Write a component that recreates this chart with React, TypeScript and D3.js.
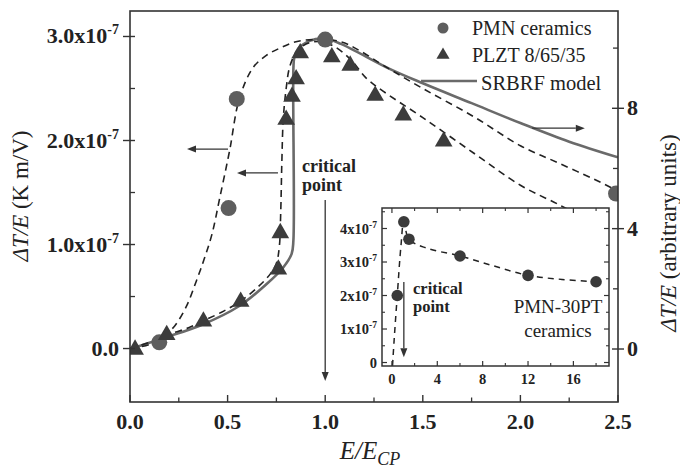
import React from "react";
import * as d3 from "d3";

// ---------- data ----------
// PMN ceramics (left axis, units of 1e-7 K m/V)
const pmnX = [0.15, 0.505, 0.547, 1.0, 2.49];
const pmnY = [0.06, 1.35, 2.4, 2.97, 1.49];
// PLZT 8/65/35 (left axis)
const plztX = [0.026, 0.188, 0.376, 0.567, 0.76, 0.77, 0.8, 0.83, 0.851, 0.872, 1.034, 1.128, 1.256, 1.4, 1.607];
const plztY = [0.0, 0.14, 0.27, 0.46, 0.77, 1.12, 2.21, 2.43, 2.6, 2.85, 2.81, 2.73, 2.44, 2.25, 2.0];
// dashed fit through PMN points (left axis)
const pmnFitX = [0, 0.1, 0.18, 0.23, 0.29, 0.34, 0.38, 0.42, 0.46, 0.51, 0.56, 0.63, 0.7, 0.77, 0.85, 0.95, 1.08, 1.18, 1.3, 1.5, 1.76, 2.0, 2.2, 2.43, 2.5];
const pmnFitY = [0, 0.04, 0.13, 0.22, 0.41, 0.65, 0.86, 1.1, 1.45, 1.9, 2.4, 2.7, 2.82, 2.89, 2.95, 2.97, 2.95, 2.86, 2.72, 2.5, 2.23, 1.95, 1.78, 1.58, 1.51];
// dashed fit through PLZT points (left axis)
const plztFitX = [0, 0.1, 0.19, 0.3, 0.38, 0.48, 0.57, 0.66, 0.72, 0.75, 0.765, 0.772, 0.778, 0.785, 0.8, 0.82, 0.86, 0.92, 0.98, 1.05, 1.13, 1.21, 1.3, 1.5, 1.76, 2.0, 2.19, 2.3];
const plztFitY = [0, 0.06, 0.13, 0.2, 0.27, 0.36, 0.46, 0.6, 0.72, 0.82, 0.98, 1.3, 1.8, 2.2, 2.5, 2.72, 2.87, 2.94, 2.95, 2.9, 2.78, 2.6, 2.47, 2.22, 1.88, 1.57, 1.39, 1.28];
// SRBRF model (right axis, arbitrary units)
const srbrfX = [0, 0.19, 0.36, 0.56, 0.7, 0.785, 0.828, 0.837, 0.837, 0.842, 0.86, 0.92, 1.0, 1.08, 1.33, 1.5, 1.75, 2.0, 2.25, 2.5];
const srbrfY = [0, 0.4, 0.78, 1.43, 2.16, 2.71, 3.16, 3.6, 9.3, 9.7, 9.97, 10.24, 10.31, 10.14, 9.31, 8.83, 8.17, 7.51, 6.89, 6.37];
// inset: PMN-30PT ceramics (units of 1e-7)
const insetX = [0.47, 1.05, 1.5, 6, 12, 18];
const insetY = [2.0, 4.2, 3.68, 3.18, 2.6, 2.41];
const insetFitX = [0.05, 0.2, 0.47, 0.8, 1.05, 1.5, 3, 6, 9, 12, 15, 18];
const insetFitY = [-0.1, 0.7, 2.0, 3.5, 4.2, 3.68, 3.42, 3.18, 2.88, 2.6, 2.48, 2.41];

// ticks
const xMajor = [0, 0.5, 1.0, 1.5, 2.0, 2.5];
const xMinor = [0.25, 0.75, 1.25, 1.75, 2.25];
const xTickLabels = ["0.0", "0.5", "1.0", "1.5", "2.0", "2.5"];
const yLMajor = [0, 1, 2, 3];
const yLMinor = [0.5, 1.5, 2.5];
const yLTickLabels = ["0.0", "1.0x10", "2.0x10", "3.0x10"];
const yRMajor = [0, 4, 8];
const yRMinor = [2, 6, 10];
const yRTickLabels = ["0", "4", "8"];
const ixMajor = [0, 4, 8, 12, 16];
const ixMinor = [2, 6, 10, 14, 18];
const ixTickLabels = ["0", "4", "8", "12", "16"];
const iyMajor = [0, 1, 2, 3, 4];
const iyMinor = [0.5, 1.5, 2.5, 3.5, 4.5];
const iyTickLabels = ["0", "1x10", "2x10", "3x10", "4x10"];

const serif = '"Liberation Serif", "DejaVu Serif", serif';

function Arrow({ x1, y1, x2, y2, color = "#333", head = 9, hw = 3.5, sw = 1.3 }) {
  const ang = Math.atan2(y2 - y1, x2 - x1);
  const bx = x2 - head * Math.cos(ang);
  const by = y2 - head * Math.sin(ang);
  const px = -Math.sin(ang) * hw;
  const py = Math.cos(ang) * hw;
  return (
    <g>
      <line x1={x1} y1={y1} x2={bx} y2={by} stroke={color} strokeWidth={sw} />
      <path d={`M${x2},${y2}L${bx + px},${by + py}L${bx - px},${by - py}Z`} fill={color} />
    </g>
  );
}

export default function App() {
  const L = 130, R = 618, T = 11, B = 402;
  const x = d3.scaleLinear().domain([0, 2.5]).range([L, R]);
  const yL = d3.scaleLinear().domain([-0.514, 3.245]).range([B, T]);
  const yR = d3.scaleLinear().domain([-1.761, 11.233]).range([B, T]);

  const IL = 382, IR = 609, IT = 208, IB = 366;
  const ix = d3.scaleLinear().domain([-0.876, 19.14]).range([IL, IR]);
  const iy = d3.scaleLinear().domain([-0.104, 4.612]).range([IB, IT]);

  const curve = d3.curveCatmullRom.alpha(0.5);
  const mk = (xs: number[], ys: number[], sx: any, sy: any) =>
    d3.line<number>().x((_, i) => sx(xs[i])).y((_, i) => sy(ys[i])).curve(curve)(xs as any) as string;

  const pmnFitPath = mk(pmnFitX, pmnFitY, x, yL);
  const plztFitPath = mk(plztFitX, plztFitY, x, yL);
  const srbrfPath = mk(srbrfX, srbrfY, x, yR);
  const insetFitPath = mk(insetFitX, insetFitY, ix, iy);

  const tri = d3.symbol().type(d3.symbolTriangle).size(135)() as string;
  const triLeg = d3.symbol().type(d3.symbolTriangle).size(75)() as string;

  const axisColor = "#333";
  const tickStyle = { fontFamily: serif, fontWeight: 700, fontSize: 22 } as const;
  const insetTickStyle = { fontFamily: serif, fontWeight: 700, fontSize: 14.5 } as const;
  const txt = { fontFamily: serif } as const;

  return (
    <svg width={680} height={468} style={{ position: "absolute", left: 0, top: 0, background: "#fff", fontFamily: serif }}>
      <defs>
        <clipPath id="plot">
          <rect x={L} y={T} width={R - L} height={B - T} />
        </clipPath>
        <clipPath id="inset">
          <rect x={IL} y={IT} width={IR - IL} height={IB - IT} />
        </clipPath>
      </defs>
      <rect x={0} y={0} width={680} height={468} fill="#fff" />

      {/* curves */}
      <g clipPath="url(#plot)">
        <path d={srbrfPath} fill="none" stroke="#6a6a6a" strokeWidth={2.6} />
        <path d={pmnFitPath} fill="none" stroke="#222" strokeWidth={1.6} strokeDasharray="7 5" />
        <path d={plztFitPath} fill="none" stroke="#222" strokeWidth={1.6} strokeDasharray="7 5" />
        {pmnX.map((v, i) => (
          <circle key={"c" + i} cx={x(v)} cy={yL(pmnY[i])} r={8} fill="#5e5e5e" />
        ))}
        {plztX.map((v, i) => (
          <path key={"t" + i} d={tri} transform={`translate(${x(v)},${yL(plztY[i]) + 1})`} fill="#3c3c3c" />
        ))}
      </g>

      {/* annotation arrows */}
      <Arrow x1={x(0.502)} y1={yL(1.918)} x2={x(0.292)} y2={yL(1.918)} />
      <Arrow x1={x(0.758)} y1={yL(1.688)} x2={x(0.548)} y2={yL(1.688)} />
      <Arrow x1={x(2.06)} y1={yR(7.34)} x2={x(2.33)} y2={yR(7.34)} />
      <Arrow x1={x(1.0)} y1={yL(1.428)} x2={x(1.0)} y2={yL(-0.3125)} />
      <text x={302} y={172} style={{ ...txt, fontWeight: 700, fontSize: 18 }} fill="#222">critical</text>
      <text x={302} y={191} style={{ ...txt, fontWeight: 700, fontSize: 18 }} fill="#222">point</text>

      {/* legend */}
      <circle cx={443} cy={28} r={5.5} fill="#5e5e5e" />
      <text x={472} y={35} style={{ ...txt, fontSize: 20 }} fill="#222">PMN ceramics</text>
      <path d={triLeg} transform="translate(443,55)" fill="#3c3c3c" />
      <text x={472} y={62} style={{ ...txt, fontSize: 20 }} fill="#222">PLZT 8/65/35</text>
      <line x1={421} x2={477} y1={81} y2={81} stroke="#6a6a6a" strokeWidth={2.6} />
      <text x={481} y={90} style={{ ...txt, fontSize: 20.5 }} fill="#222">SRBRF model</text>

      {/* main frame */}
      <rect x={L} y={T} width={R - L} height={B - T} fill="none" stroke={axisColor} strokeWidth={1.6} />
      {xMajor.map((v) => (
        <line key={"xm" + v} x1={x(v)} x2={x(v)} y1={B} y2={B - 7} stroke={axisColor} strokeWidth={1.4} />
      ))}
      {xMinor.map((v) => (
        <line key={"xn" + v} x1={x(v)} x2={x(v)} y1={B} y2={B - 4.5} stroke={axisColor} strokeWidth={1.3} />
      ))}
      {xMajor.map((v, i) => (
        <text key={"xl" + v} x={x(v)} y={429} textAnchor="middle" style={tickStyle} fill="#222">{xTickLabels[i]}</text>
      ))}
      {yLMajor.map((v) => (
        <line key={"ylm" + v} x1={L - 7} x2={L + 5} y1={yL(v)} y2={yL(v)} stroke={axisColor} strokeWidth={1.4} />
      ))}
      {yLMinor.map((v) => (
        <line key={"yln" + v} x1={L} x2={L + 5} y1={yL(v)} y2={yL(v)} stroke={axisColor} strokeWidth={1.3} />
      ))}
      {yLMajor.map((v, i) => (
        <text key={"yll" + v} x={119} y={yL(v) + 7} textAnchor="end" style={tickStyle} fill="#222">
          {yLTickLabels[i]}
          {v !== 0 && <tspan style={{ fontSize: 14 }} dy={-9}>-7</tspan>}
        </text>
      ))}
      {yRMajor.map((v) => (
        <line key={"yrm" + v} x1={R - 6} x2={R + 6} y1={yR(v)} y2={yR(v)} stroke={axisColor} strokeWidth={1.4} />
      ))}
      {yRMinor.map((v) => (
        <line key={"yrn" + v} x1={R - 5} x2={R} y1={yR(v)} y2={yR(v)} stroke={axisColor} strokeWidth={1.3} />
      ))}
      {yRMajor.map((v, i) => (
        <text key={"yrl" + v} x={627} y={yR(v) + 7} textAnchor="start" style={tickStyle} fill="#222">{yRTickLabels[i]}</text>
      ))}

      {/* axis titles */}
      <text x={370} y={459} textAnchor="middle" style={{ ...txt, fontSize: 25, fontStyle: "italic" }} fill="#222">
        E/E<tspan style={{ fontSize: 18 }} dy={6}>CP</tspan>
      </text>
      <text transform="translate(28,196) rotate(-90)" textAnchor="middle" style={{ ...txt, fontSize: 23 }} fill="#222">
        <tspan style={{ fontStyle: "italic" }}>ΔT/E</tspan> (K m/V)
      </text>
      <text transform="translate(676,233) rotate(-90)" textAnchor="middle" style={{ ...txt, fontSize: 23 }} fill="#222">
        <tspan style={{ fontStyle: "italic" }}>ΔT/E</tspan> (arbitrary units)
      </text>

      {/* inset */}
      <rect x={IL} y={IT} width={IR - IL} height={IB - IT} fill="#fff" />
      <g clipPath="url(#inset)">
        <path d={insetFitPath} fill="none" stroke="#222" strokeWidth={1.5} strokeDasharray="6 5" />
        {insetX.map((v, i) => (
          <circle key={"ic" + i} cx={ix(v)} cy={iy(insetY[i])} r={5.8} fill="#3a3a3a" />
        ))}
      </g>
      <Arrow x1={ix(1.05)} y1={iy(2.4)} x2={ix(1.05)} y2={iy(0.16)} head={9} hw={3.5} />
      <text x={413} y={294} style={{ ...txt, fontWeight: 700, fontSize: 16.5 }} fill="#222">critical</text>
      <text x={413} y={312} style={{ ...txt, fontWeight: 700, fontSize: 16.5 }} fill="#222">point</text>
      <text x={558} y={313} textAnchor="middle" style={{ ...txt, fontSize: 19 }} fill="#222">PMN-30PT</text>
      <text x={558} y={337} textAnchor="middle" style={{ ...txt, fontSize: 19 }} fill="#222">ceramics</text>
      <rect x={IL} y={IT} width={IR - IL} height={IB - IT} fill="none" stroke={axisColor} strokeWidth={1.5} />
      {ixMajor.map((v) => (
        <g key={"ixm" + v}>
          <line x1={ix(v)} x2={ix(v)} y1={IB} y2={IB - 5} stroke={axisColor} strokeWidth={1.2} />
          <line x1={ix(v)} x2={ix(v)} y1={IT} y2={IT + 5} stroke={axisColor} strokeWidth={1.2} />
        </g>
      ))}
      {ixMinor.map((v) => (
        <g key={"ixn" + v}>
          <line x1={ix(v)} x2={ix(v)} y1={IB} y2={IB - 3} stroke={axisColor} strokeWidth={1.1} />
          <line x1={ix(v)} x2={ix(v)} y1={IT} y2={IT + 3} stroke={axisColor} strokeWidth={1.1} />
        </g>
      ))}
      {ixMajor.map((v, i) => (
        <text key={"ixl" + v} x={ix(v)} y={384} textAnchor="middle" style={insetTickStyle} fill="#222">{ixTickLabels[i]}</text>
      ))}
      {iyMajor.map((v) => (
        <g key={"iym" + v}>
          <line x1={IL} x2={IL + 5} y1={iy(v)} y2={iy(v)} stroke={axisColor} strokeWidth={1.2} />
          <line x1={IR} x2={IR - 5} y1={iy(v)} y2={iy(v)} stroke={axisColor} strokeWidth={1.2} />
        </g>
      ))}
      {iyMinor.map((v) => (
        <g key={"iyn" + v}>
          <line x1={IL} x2={IL + 3} y1={iy(v)} y2={iy(v)} stroke={axisColor} strokeWidth={1.1} />
          <line x1={IR} x2={IR - 3} y1={iy(v)} y2={iy(v)} stroke={axisColor} strokeWidth={1.1} />
        </g>
      ))}
      {iyMajor.map((v, i) => (
        <text key={"iyl" + v} x={377} y={iy(v) + 5} textAnchor="end" style={insetTickStyle} fill="#222">
          {iyTickLabels[i]}
          {v !== 0 && <tspan style={{ fontSize: 9.5 }} dy={-6}>-7</tspan>}
        </text>
      ))}
    </svg>
  );
}
